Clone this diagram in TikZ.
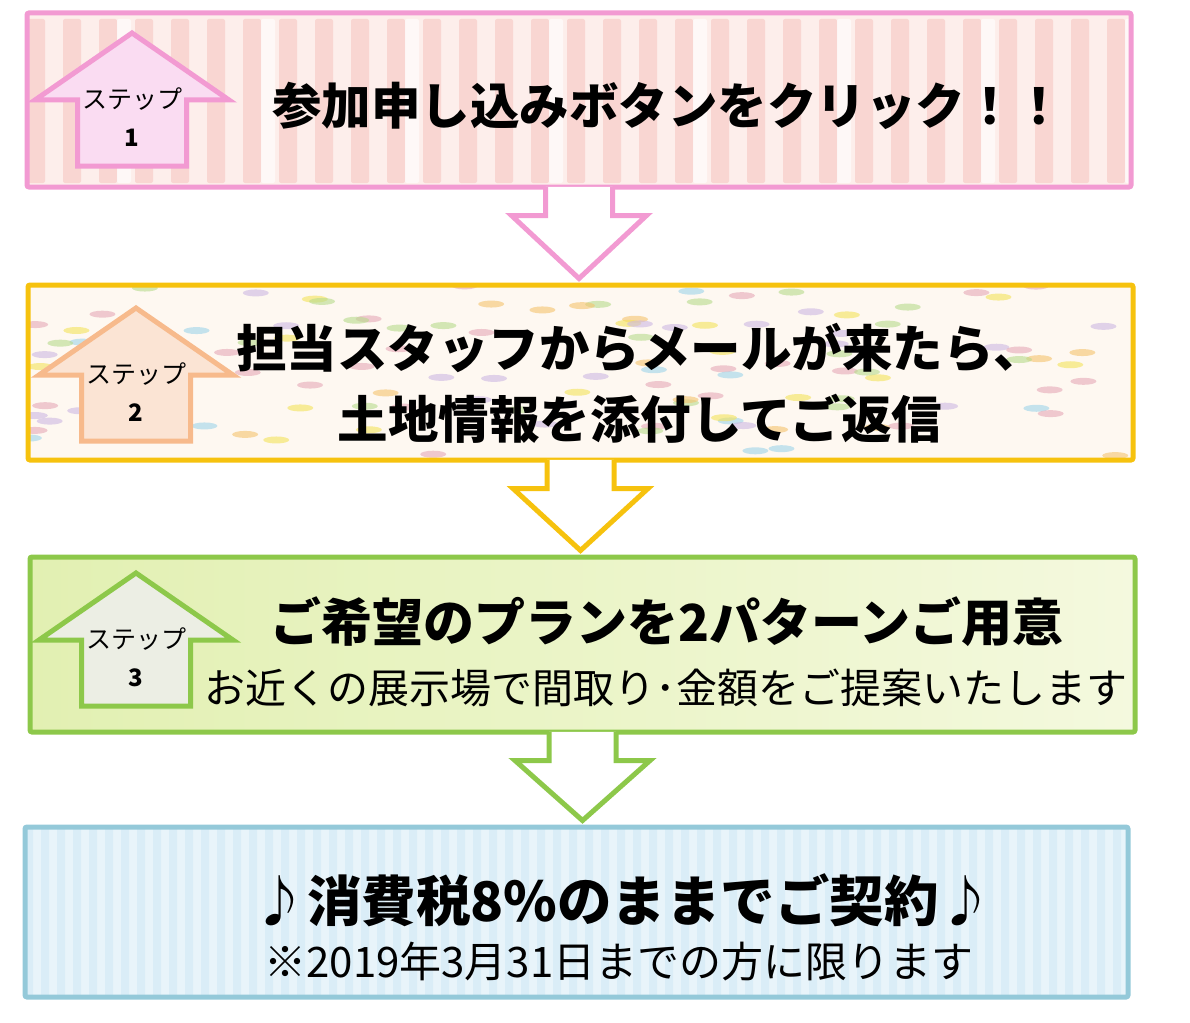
\documentclass[tikz,border=0pt]{standalone}
\usepackage{fontspec}
\setmainfont{Noto Sans CJK JP}
\usetikzlibrary{calc}
\definecolor{pinkline}{HTML}{F29AD2}
\definecolor{pinkhouse}{HTML}{FADCF2}
\definecolor{pinkbase}{HTML}{FDEEEB}
\definecolor{pinkstripe}{HTML}{F9D6D2}
\definecolor{yellowline}{HTML}{F6C20E}
\definecolor{peachline}{HTML}{F7BA8C}
\definecolor{peachhouse}{HTML}{FBE4D4}
\definecolor{cream}{HTML}{FEF8F1}
\definecolor{greenline}{HTML}{8DC84A}
\definecolor{greenA}{HTML}{E2F0B2}
\definecolor{greenB}{HTML}{F0F8D4}
\definecolor{greenC}{HTML}{F4F9DE}
\definecolor{greyhouse}{HTML}{ECEEE4}
\definecolor{blueline}{HTML}{94C9D9}
\definecolor{bluebase}{HTML}{E8F4FA}
\definecolor{bluestripe}{HTML}{DAEDF7}
\definecolor{confetti0}{HTML}{F3E35A}
\definecolor{confetti1}{HTML}{E6A9B8}
\definecolor{confetti2}{HTML}{9ED4EA}
\definecolor{confetti3}{HTML}{B7DB8C}
\definecolor{confetti4}{HTML}{CDB8E2}
\definecolor{confetti5}{HTML}{F4C46E}

\begin{document}
\begin{tikzpicture}[x=1pt,y=-1pt,
    box/.style={draw,line width=5pt,rounded corners=2pt,minimum width=1104pt,minimum height=174pt,inner sep=0pt},
    pinkstripes/.style={path picture={
      \foreach \i in {0,36,...,1116}
        \fill[pinkstripe] ($(path picture bounding box.north west)+(\i,6)$) rectangle ++(18,164);
      \foreach \i in {90,234,...,1116}
        \fill[white,opacity=0.6] ($(path picture bounding box.north west)+(\i,6)$) rectangle ++(14,164);
    }},
    confetti/.style={path picture={
      \pgfmathsetseed{11}
      \foreach \j in {1,...,120}{
        \pgfmathsetmacro\cx{rnd*1105}
        \pgfmathsetmacro\cy{rnd*175}
        \pgfmathtruncatemacro\cc{int(rnd*6)}
        \fill[confetti\cc,opacity=0.6] ($(path picture bounding box.north west)+(\cx,\cy)$) ellipse (13 and 3.5);
      }
    }},
    bluestripes/.style={path picture={
      \foreach \i in {0,16,...,1110}
        \fill[bluestripe] ($(path picture bounding box.north west)+(\i,0)$) rectangle ++(8,175);
    }},
    house/.style={line width=5pt,line join=miter},
    steptext/.style={font=\fontsize{25}{25}\selectfont},
    stepnum/.style={font=\fontsize{24}{24}\selectfont\bfseries},
    bigtext/.style={font=\fontsize{#1}{71}\selectfont\bfseries,align=center},
    smalltext/.style={font=\fontsize{#1}{#1}\selectfont}]
  \useasboundingbox (0,0) rectangle (1190,1022);
  % the four steps
  \node[box,draw=pinkline,fill=pinkbase,pinkstripes] (step1) at (579,100) {};
  \node[box,draw=yellowline,fill=cream,confetti,minimum width=1105pt,minimum height=175pt] (step2) at (580.5,372.5) {};
  \node[box,draw=greenline,left color=greenA,middle color=greenB,right color=greenC,minimum width=1105pt,minimum height=175pt] (step3) at (582.5,644.5) {};
  \node[box,draw=blueline,fill=bluebase,bluestripes,minimum width=1103pt,minimum height=170pt] (step4) at (576.5,912) {};
  % arrows between the steps
  \foreach \a/\b/\c in {step1/step2/pinkline,step2/step3/yellowline,step3/step4/greenline}{
    \fill[white] ($(\a.south)+(-33.5,-2.6)$) -- ($(\a.south)+(-33.5,26)$) -- ($(\a.south)+(-67.5,26)$)
      -- ($(\a.south |- \b.north)+(0,-4)$) -- ($(\a.south)+(67.5,26)$) -- ($(\a.south)+(33.5,26)$)
      -- ($(\a.south)+(33.5,-2.6)$) -- cycle;
    \draw[\c,line width=5pt,line join=miter] ($(\a.south)+(-33.5,-2.6)$) -- ($(\a.south)+(-33.5,26)$) -- ($(\a.south)+(-67.5,26)$)
      -- ($(\a.south |- \b.north)+(0,-4)$) -- ($(\a.south)+(67.5,26)$) -- ($(\a.south)+(33.5,26)$)
      -- ($(\a.south)+(33.5,-2.6)$);
  }
  % step labels
  \foreach \n/\tx/\ty/\fc/\dc in {1/132/33/pinkhouse/pinkline,2/136/308/peachhouse/peachline,3/136/573/greyhouse/greenline}{
    \coordinate (tip\n) at (\tx,\ty);
    \filldraw[house,fill=\fc,draw=\dc] (tip\n) -- ++(97,67) -- ++(-42.5,0) -- ++(0,66) -- ++(-109,0) -- ++(0,-66) -- ++(-42.5,0) -- cycle;
    \node[steptext] (st\n) at ($(tip\n)+(0,66)$) {ステップ};
    \node[stepnum] (num\n) at ($(tip\n)+(0,105)$) {\n};
  }
  \node[bigtext=49.5] (t1) at (668,106) {参加申し込みボタンをクリック！！};
  \node[bigtext=50.5] (t2) at (640,383) {担当スタッフからメールが来たら、\\土地情報を添付してご返信};
  \node[bigtext=51] (t3) at (667,622) {ご希望のプランを2パターンご用意};
  \node[smalltext=41] (t3b) at (666,688) {お近くの展示場で間取り･金額をご提案いたします};
  \node[bigtext=54.5] (t4) at (623,900) {♪消費税8\%のままでご契約♪};
  \node[smalltext=42] (t4b) at (619,962) {※2019年3月31日までの方に限ります};
\end{tikzpicture}
\end{document}
